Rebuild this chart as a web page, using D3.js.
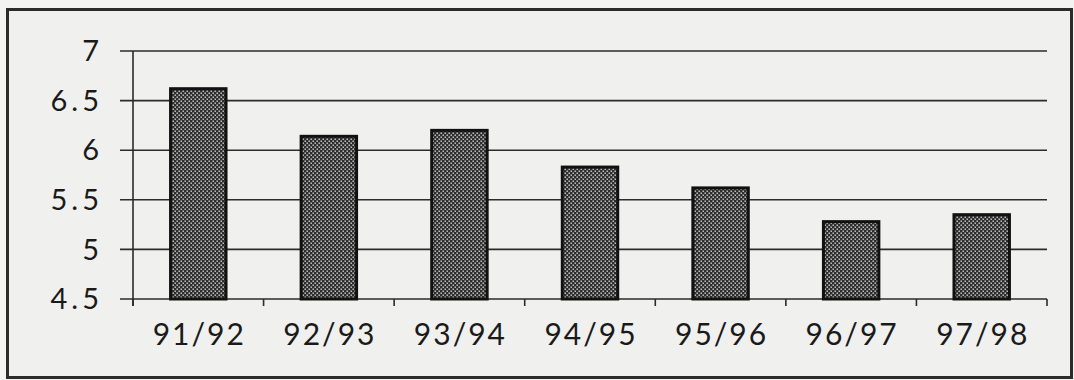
<!DOCTYPE html>
<html>
<head>
<meta charset="utf-8">
<script src="https://cdn.jsdelivr.net/npm/d3@7"></script>
<style>
  html, body { margin: 0; padding: 0; background: #f3f3f1; }
  svg { display: block; }
  text { font-family: Lato, "Open Sans", sans-serif; fill: #1a1a1a; }
</style>
</head>
<body>
<svg id="chart" width="1074" height="380"></svg>
<script>
// Seasons along the x axis
const seasons = ["91/92", "92/93", "93/94", "94/95", "95/96", "96/97", "97/98"];
// Value per season
const values = [6.62, 6.14, 6.20, 5.83, 5.62, 5.28, 5.35];
// Y axis ticks
const yTicks = [4.5, 5, 5.5, 6, 6.5, 7];

const svg = d3.select("#chart");
const plot = { left: 133, right: 1047, top: 51, bottom: 299 };

// Framed panel
svg.append("rect")
  .attr("x", 7.5).attr("y", 9.5)
  .attr("width", 1064).attr("height", 368)
  .attr("fill", "#f0f0ee")
  .attr("stroke", "#2b2b2b").attr("stroke-width", 3);

// Dotted fill for the bars
const defs = svg.append("defs");
const pat = defs.append("pattern")
  .attr("id", "dots").attr("patternUnits", "userSpaceOnUse")
  .attr("width", 4).attr("height", 4);
pat.append("rect").attr("width", 4).attr("height", 4).attr("fill", "#2e2e2e");
pat.append("rect").attr("x", 0.5).attr("y", 0.5).attr("width", 1.4).attr("height", 1.4).attr("fill", "#d8d8d8");
pat.append("rect").attr("x", 2.5).attr("y", 2.5).attr("width", 1.4).attr("height", 1.4).attr("fill", "#d8d8d8");

const x = d3.scaleBand().domain(seasons)
  .range([plot.left, plot.right]).paddingInner(0.56).paddingOuter(0.28);
const y = d3.scaleLinear().domain([4.5, 7]).range([plot.bottom, plot.top]);

// Horizontal gridlines with left tick stubs
svg.append("g").selectAll("line").data(yTicks).join("line")
  .attr("x1", plot.left - 13).attr("x2", plot.right)
  .attr("y1", d => y(d)).attr("y2", d => y(d))
  .attr("stroke", "#2b2b2b").attr("stroke-width", 1.6);

// Y axis line
svg.append("line")
  .attr("x1", plot.left).attr("x2", plot.left)
  .attr("y1", plot.top).attr("y2", plot.bottom + 7)
  .attr("stroke", "#2b2b2b").attr("stroke-width", 1.6);

// Category boundary ticks under the baseline
const step = x.step();
const bounds = d3.range(seasons.length + 1).map(i => plot.left + i * step);
svg.append("g").selectAll("line").data(bounds).join("line")
  .attr("x1", d => d).attr("x2", d => d)
  .attr("y1", plot.bottom).attr("y2", plot.bottom + 7)
  .attr("stroke", "#2b2b2b").attr("stroke-width", 1.6);

// Y tick labels
const ySpacing = 4;
svg.append("g").selectAll("text").data(yTicks).join("text")
  .attr("x", 99 + ySpacing).attr("y", d => y(d))
  .attr("dy", "0.35em")
  .attr("text-anchor", "end")
  .attr("font-size", 29)
  .attr("letter-spacing", ySpacing)
  .text(d => d);

// Bars
svg.append("g").selectAll("rect").data(values).join("rect")
  .attr("x", (d, i) => x(seasons[i]) + 1)
  .attr("y", d => y(d))
  .attr("width", x.bandwidth() - 2)
  .attr("height", d => y(4.5) - y(d))
  .attr("fill", "url(#dots)")
  .attr("stroke", "#111").attr("stroke-width", 3);

// X tick labels
const xSpacing = 2;
svg.append("g").selectAll("text").data(seasons).join("text")
  .attr("x", d => x(d) + x.bandwidth() / 2 + xSpacing / 2)
  .attr("y", 345)
  .attr("text-anchor", "middle")
  .attr("font-size", 30)
  .attr("letter-spacing", xSpacing)
  .text(d => d);
</script>
</body>
</html>
